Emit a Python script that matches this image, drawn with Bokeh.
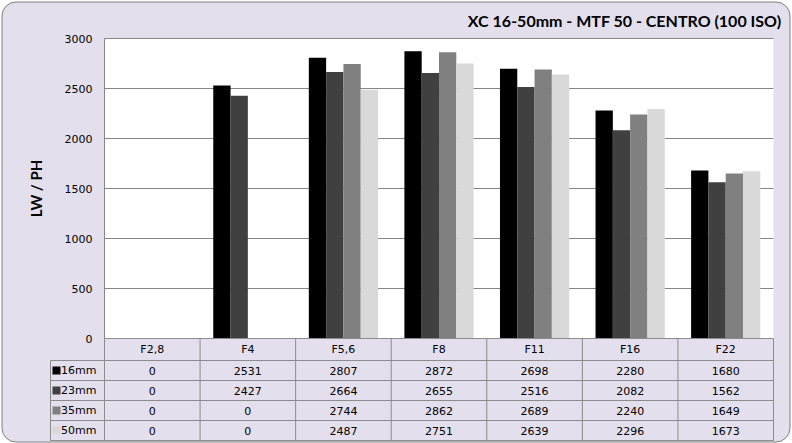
import math
from bokeh.plotting import figure
from bokeh.models import Range1d
from bokeh.core.properties import value
from bokeh.embed import file_html
from bokeh.resources import INLINE

# ---------------- data ----------------
categories = ["F2,8", "F4", "F5,6", "F8", "F11", "F16", "F22"]
series_names = ["16mm", "23mm", "35mm", "50mm"]
mm16 = [0, 2531, 2807, 2872, 2698, 2280, 1680]
mm23 = [0, 2427, 2664, 2655, 2516, 2082, 1562]
mm35 = [0, 0, 2744, 2862, 2689, 2240, 1649]
mm50 = [0, 0, 2487, 2751, 2639, 2296, 1673]
series_values = [mm16, mm23, mm35, mm50]
colors = ["#000000", "#404040", "#808080", "#D9D9D9"]
yticks = [0, 500, 1000, 1500, 2000, 2500, 3000]
title_text = "XC 16-50mm - MTF 50 - CENTRO (100 ISO)"
ylabel_text = "LW / PH"

# ---------------- layout helpers (page pixel -> data) ----------------
PX = 95.57        # pixels per category column
VY = 10.0         # value units per pixel
X0, Y0 = 104, 338 # page position of plot area left / value 0
def xp(px):
    return (px - X0) / PX
def yp(py):
    return (Y0 - py) * VY

W, H = 792, 443
p = figure(width=W, height=H, output_backend="svg", toolbar_location=None,
           x_range=Range1d(xp(0), xp(W)), y_range=Range1d(yp(H), yp(0)),
           x_axis_type=None, y_axis_type=None, min_border=0,
           border_fill_color="white", background_fill_color="white",
           outline_line_color=None)
p.grid.visible = False

FONT = value("DejaVu Sans")
BG = "#E4DFEC"
LINE = "#8C8C8C"

# outer rounded panel
p.quad(left=xp(1.5), right=xp(789.5), top=yp(1.5), bottom=yp(441.5),
       fill_color=BG, line_color="#7F7F7F", line_width=1, border_radius=14)

n = len(categories)
# plot area
p.quad(left=0, right=n, bottom=0, top=yticks[-1], fill_color="white", line_color=None)
p.segment(x0=[0], x1=[0], y0=[0], y1=[yticks[-1]], line_color="#868686", line_width=1)
p.segment(x0=[0] * (len(yticks) - 1), x1=[n] * (len(yticks) - 1),
          y0=yticks[1:], y1=yticks[1:], line_color="#868686", line_width=1)

# bars
bw = 0.181
for j, (vals, col) in enumerate(zip(series_values, colors)):
    xs = [i + 0.5 + (j - 1.5) * bw for i in range(n)]
    p.vbar(x=xs, top=vals, bottom=0, width=bw, fill_color=col, line_color=None)

# y tick labels
p.text(x=[xp(92)] * len(yticks), y=yticks, text=[str(t) for t in yticks],
       text_align="right", text_baseline="middle", text_font=FONT,
       text_font_size="11px", text_color="#000000")

# y axis label
p.text(x=[xp(35)], y=[yp(188)], text=[ylabel_text], angle=math.pi / 2,
       text_align="center", text_baseline="middle", text_font=value("Lato"),
       text_font_style="bold", text_font_size="15px", text_color="#000000")

# title
p.text(x=[xp(781)], y=[yp(20)], text=[title_text], text_align="right",
       text_baseline="middle", text_font=value("Lato"), text_font_style="bold",
       text_font_size="16px", text_color="#000000")

# ---------------- data table ----------------
row_edges = [0, yp(360), yp(380), yp(400), yp(420), yp(440)]
leg_left = xp(50)
# horizontal lines
p.segment(x0=[0], x1=[n], y0=[row_edges[0]], y1=[row_edges[0]], line_color=LINE)
p.segment(x0=[leg_left] * 5, x1=[n] * 5, y0=row_edges[1:], y1=row_edges[1:], line_color=LINE)
# vertical lines
p.segment(x0=list(range(n + 1)), x1=list(range(n + 1)),
          y0=[row_edges[0]] * (n + 1), y1=[row_edges[-1]] * (n + 1), line_color=LINE)
p.segment(x0=[leg_left], x1=[leg_left], y0=[row_edges[1]], y1=[row_edges[-1]], line_color=LINE)

row_centers = [(row_edges[k] + row_edges[k + 1]) / 2 for k in range(5)]
# header
p.text(x=[i + 0.5 for i in range(n)], y=[row_centers[0]] * n, text=categories,
       text_align="center", text_baseline="middle", text_font=FONT,
       text_font_size="11px", text_color="#000000")
# values
for j, vals in enumerate(series_values):
    p.text(x=[i + 0.5 for i in range(n)], y=[row_centers[j + 1]] * n,
           text=[str(v) for v in vals], text_align="center", text_baseline="middle",
           text_font=FONT, text_font_size="11px", text_color="#000000")
# legend keys
p.scatter(x=[xp(56)] * 4, y=row_centers[1:], marker="square", size=8,
          fill_color=colors, line_color=None)
p.text(x=[xp(60.5)] * 4, y=row_centers[1:], text=series_names, text_align="left",
       text_baseline="middle", text_font=FONT, text_font_size="11px", text_color="#000000")

open("out.html", "w").write(file_html(p, INLINE))
